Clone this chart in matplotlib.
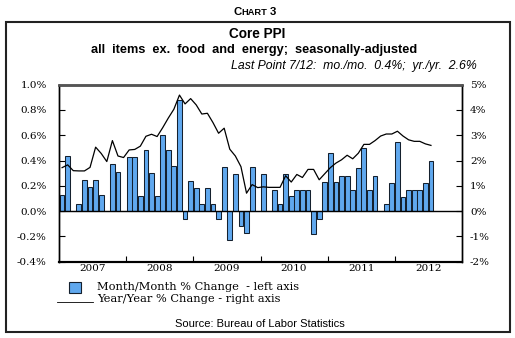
import matplotlib
matplotlib.use("Agg")
import matplotlib.pyplot as plt
from matplotlib.patches import Rectangle
from matplotlib.lines import Line2D
import numpy as np

# Core PPI ex. food & energy, Jan 2007 - Jul 2012
mom_change = [
    0.13, 0.44, 0.00, 0.06, 0.25, 0.19, 0.25, 0.13, 0.00, 0.37, 0.31, 0.00,   # 2007
    0.43, 0.43, 0.12, 0.48, 0.30, 0.12, 0.60, 0.48, 0.36, 0.88, -0.06, 0.24,  # 2008
    0.18, 0.06, 0.18, 0.06, -0.06, 0.35, -0.23, 0.29, -0.12, -0.17, 0.35, 0.00,  # 2009
    0.29, 0.00, 0.17, 0.06, 0.29, 0.12, 0.17, 0.17, 0.17, -0.18, -0.06, 0.23,  # 2010
    0.46, 0.23, 0.28, 0.28, 0.17, 0.34, 0.50, 0.17, 0.28, 0.00, 0.06, 0.22,   # 2011
    0.55, 0.11, 0.17, 0.17, 0.17, 0.22, 0.40,                                 # 2012
]
yoy_change = [
    1.72, 1.83, 1.60, 1.59, 1.59, 1.73, 2.53, 2.28, 1.96, 2.79, 2.18, 2.12,
    2.42, 2.44, 2.57, 2.96, 3.04, 2.95, 3.30, 3.68, 4.03, 4.59, 4.24, 4.45,
    4.20, 3.84, 3.87, 3.50, 3.08, 3.28, 2.45, 2.18, 1.76, 0.71, 1.05, 0.93,
    0.96, 0.94, 0.94, 0.94, 1.40, 1.15, 1.45, 1.33, 1.65, 1.65, 1.24, 1.48,
    1.72, 1.90, 2.03, 2.21, 2.07, 2.29, 2.64, 2.64, 2.79, 2.97, 3.05, 3.05,
    3.16, 2.97, 2.82, 2.76, 2.76, 2.66, 2.60,
]
years = ["2007", "2008", "2009", "2010", "2011", "2012"]
left_ticks = [-0.4, -0.2, 0.0, 0.2, 0.4, 0.6, 0.8, 1.0]
right_ticks = [-2, -1, 0, 1, 2, 3, 4, 5]

W, H = 515, 338
fig = plt.figure(figsize=(W / 100, H / 100), dpi=100)


def fx(px):
    return px / W


def fy(py):
    return 1 - py / H


SANS = "Liberation Sans"
SERIF = "DejaVu Serif"
BAR_BLUE = "#60A8EE"
BAR_EDGE = "#14202e"

# outer frame
fig.patches.append(Rectangle((fx(6), fy(332)), fx(510) - fx(6), fy(22) - fy(332),
                             transform=fig.transFigure, fill=False,
                             edgecolor="#222222", linewidth=1.5))

# heading
fig.text(fx(233), fy(15), "C", fontsize=8.2, fontweight="bold", family=SANS, va="baseline")
fig.text(fx(241.5), fy(15), "HART", fontsize=6.7, fontweight="bold", family=SANS, va="baseline")
fig.text(fx(270), fy(15), "3", fontsize=8.2, fontweight="bold", family=SANS, va="baseline")
fig.text(fx(257), fy(38), "Core PPI", fontsize=9.8, fontweight="bold", family=SANS,
         ha="center", va="baseline")
fig.text(fx(254), fy(52.5), "all  items  ex.  food  and  energy;  seasonally-adjusted",
         fontsize=9.2, fontweight="bold", family=SANS, ha="center", va="baseline")
fig.text(fx(477), fy(68.5), "Last Point 7/12:  mo./mo.  0.4%;  yr./yr.  2.6%",
         fontsize=8.8, style="italic", family=SANS, ha="right", va="baseline")

ax = fig.add_axes([fx(59.3), fy(261.7), fx(461.7) - fx(59.3), fy(84.7) - fy(261.7)])
x = np.arange(len(mom_change))
ax.bar(x, mom_change, width=0.86, color=BAR_BLUE, edgecolor=BAR_EDGE,
       linewidth=0.75, zorder=2)
ax.axhline(0, color="black", linewidth=1.0, zorder=3)
ax.set_xlim(-0.5, 71.5)
ax.set_ylim(-0.4, 1.0)

ax.set_yticks(left_ticks)
ax.set_yticklabels([("-" if v < 0 else "") + f"{abs(v):.1f}%" for v in left_ticks])
ax.tick_params(axis="y", direction="in", length=4, pad=9, labelsize=7.5)

ax.set_xticks([11.5 + 12 * i for i in range(5)])
ax.set_xticklabels([])
ax.set_xticks([5.5 + 12 * i for i in range(len(years))], minor=True)
ax.set_xticklabels(years, minor=True)
ax.tick_params(axis="x", which="major", direction="in", length=4)
ax.tick_params(axis="x", which="minor", length=0, pad=2, labelsize=7.5)

ax2 = ax.twinx()
ax2.plot(x, yoy_change, color="black", linewidth=0.9)
ax2.set_ylim(-2, 5)
ax2.set_yticks(right_ticks)
ax2.set_yticklabels([("-" if v < 0 else "") + f"{abs(v)}%" for v in right_ticks])
ax2.tick_params(axis="y", direction="in", length=4, pad=6, labelsize=7.5)

for a in (ax, ax2):
    for lab in a.get_yticklabels() + a.get_xticklabels(which="both"):
        lab.set_family(SERIF)
    a.spines["top"].set_color("#555555")
    a.spines["top"].set_linewidth(1.8)
    a.spines["bottom"].set_linewidth(1.5)
    for s in ("left", "right"):
        a.spines[s].set_linewidth(1.0)

# legend
fig.patches.append(Rectangle((fx(69), fy(293)), fx(81) - fx(69), fy(282) - fy(293),
                             transform=fig.transFigure, facecolor=BAR_BLUE,
                             edgecolor=BAR_EDGE, linewidth=0.8))
fig.text(fx(97), fy(286.5), "Month/Month % Change  - left axis", fontsize=8.2,
         family=SERIF, va="center")
fig.lines.append(Line2D([fx(57), fx(93)], [fy(302), fy(302)], transform=fig.transFigure,
                        color="black", linewidth=0.6))
fig.text(fx(97), fy(299.5), "Year/Year % Change - right axis", fontsize=8.2,
         family=SERIF, va="center")

fig.text(fx(260), fy(324), "Source: Bureau of Labor Statistics", fontsize=8,
         family=SANS, ha="center", va="center")

fig.savefig("out.png", dpi=100)
